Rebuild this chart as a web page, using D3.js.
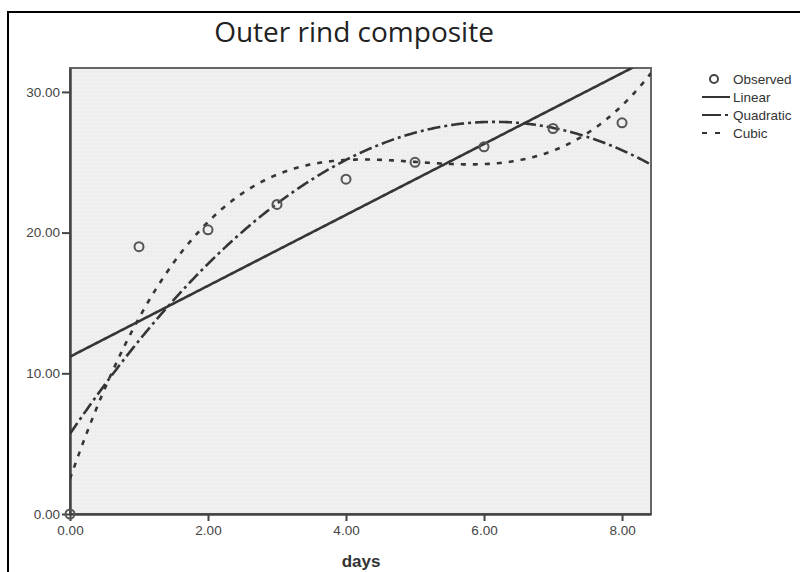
<!DOCTYPE html>
<html>
<head>
<meta charset="utf-8">
<script src="https://cdn.jsdelivr.net/npm/d3@7"></script>
<style>
  body { margin: 0; background: #fff; }
  svg { display: block; }
</style>
</head>
<body>
<div id="chart"></div>
<script>
// Outer rind composite - curve estimation chart (observed + linear/quadratic/cubic fits)

const days = [0, 1, 2, 3, 4, 5, 6, 7, 8];
const observed = [0, 19.0, 20.2, 22.0, 23.8, 25.0, 26.1, 27.4, 27.8];

// fitted model coefficients, constant term first
const linearCoef = [11.18, 2.52];
const quadraticCoef = [5.70, 7.214, -0.5868];
const cubicCoef = [2.496, 14.122, -2.877, 0.1908];

const xTicks = [0, 2, 4, 6, 8];
const yTicks = [0, 10, 20, 30];
const legendLabels = ['Observed', 'Linear', 'Quadratic', 'Cubic'];

const W = 800, H = 572;
const plot = { left: 70, right: 651, top: 68, bottom: 514 };

const svg = d3.select('#chart').append('svg')
  .attr('width', W)
  .attr('height', H);

// frame lines (top + left)
svg.append('path')
  .attr('d', `M8,${H} L8,12 L${W},12`)
  .attr('fill', 'none')
  .attr('stroke', '#000')
  .attr('stroke-width', 2);

// title
svg.append('text')
  .attr('x', 354)
  .attr('y', 42)
  .attr('text-anchor', 'middle')
  .attr('font-family', '"Open Sans", sans-serif')
  .attr('font-size', 28)
  .attr('fill', '#222')
  .text('Outer rind composite');

const x = d3.scaleLinear().domain([0, 8.42]).range([plot.left, plot.right]);
const y = d3.scaleLinear().domain([0, 31.7]).range([plot.bottom, plot.top]);

// dotted grey background
const defs = svg.append('defs');
const pat = defs.append('pattern')
  .attr('id', 'dots')
  .attr('width', 4)
  .attr('height', 4)
  .attr('patternUnits', 'userSpaceOnUse');
pat.append('rect').attr('width', 4).attr('height', 4).attr('fill', '#eeeeee');
pat.append('rect').attr('x', 1).attr('y', 1).attr('width', 1).attr('height', 1).attr('fill', '#fbfbfb');

defs.append('clipPath').attr('id', 'clip')
  .append('rect')
  .attr('x', plot.left)
  .attr('y', plot.top)
  .attr('width', plot.right - plot.left)
  .attr('height', plot.bottom - plot.top);

svg.append('rect')
  .attr('x', plot.left)
  .attr('y', plot.top)
  .attr('width', plot.right - plot.left)
  .attr('height', plot.bottom - plot.top)
  .attr('fill', 'url(#dots)')
  .attr('stroke', '#666')
  .attr('stroke-width', 2);

// axes
const xAxis = svg.append('g')
  .attr('transform', `translate(0,${plot.bottom})`)
  .call(d3.axisBottom(x).tickValues(xTicks).tickFormat(d3.format('.2f'))
    .tickSizeInner(7).tickSizeOuter(0).tickPadding(4));
const yAxis = svg.append('g')
  .attr('transform', `translate(${plot.left},0)`)
  .call(d3.axisLeft(y).tickValues(yTicks).tickFormat(d3.format('.2f'))
    .tickSizeInner(8).tickSizeOuter(0).tickPadding(2));

[xAxis, yAxis].forEach(g => {
  g.select('.domain').attr('stroke', '#444').attr('stroke-width', 2.5);
  g.selectAll('.tick line').attr('stroke', '#444').attr('stroke-width', 2);
  g.selectAll('.tick text')
    .attr('font-family', 'Arial, "Liberation Sans", sans-serif')
    .attr('font-size', 13.5)
    .attr('fill', '#444');
});

svg.append('text')
  .attr('x', 361)
  .attr('y', 567)
  .attr('text-anchor', 'middle')
  .attr('font-family', 'Arial, "Liberation Sans", sans-serif')
  .attr('font-weight', 'bold')
  .attr('font-size', 17)
  .attr('fill', '#333')
  .text('days');

// fitted curves
const poly = coef => v => coef.reduce((s, c, i) => s + c * Math.pow(v, i), 0);
const xs = d3.range(0, 8.43, 0.02);

const curves = [
  { coef: linearCoef, dash: null },
  { coef: quadraticCoef, dash: '13,4,3,4' },
  { coef: cubicCoef, dash: '5,7' }
];

const g = svg.append('g').attr('clip-path', 'url(#clip)');
curves.forEach(c => {
  const f = poly(c.coef);
  g.append('path')
    .datum(xs)
    .attr('fill', 'none')
    .attr('stroke', '#353535')
    .attr('stroke-width', 2.6)
    .attr('stroke-dasharray', c.dash)
    .attr('d', d3.line().x(d => x(d)).y(d => y(f(d))));
});

// observed points
svg.append('g').selectAll('circle')
  .data(days.map((d, i) => ({ d, v: observed[i] })))
  .join('circle')
  .attr('cx', p => x(p.d))
  .attr('cy', p => y(p.v))
  .attr('r', 4.5)
  .attr('fill', 'none')
  .attr('stroke', '#555')
  .attr('stroke-width', 2);

// legend
const leg = svg.append('g').attr('font-family', 'Arial, "Liberation Sans", sans-serif');
const rowY = i => 79 + i * 18;
leg.selectAll('text')
  .data(legendLabels)
  .join('text')
  .attr('x', 733)
  .attr('y', (d, i) => rowY(i) + 5)
  .attr('font-size', 13.5)
  .attr('fill', '#333')
  .text(d => d);

leg.append('circle')
  .attr('cx', 714).attr('cy', rowY(0)).attr('r', 4)
  .attr('fill', 'none').attr('stroke', '#444').attr('stroke-width', 2);
[[null, 1, 730], ['19,4,3,4', 2, 730], ['5,8', 3, 720]].forEach(([dash, i, x2]) => {
  leg.append('line')
    .attr('x1', 702).attr('x2', x2)
    .attr('y1', rowY(i)).attr('y2', rowY(i))
    .attr('stroke', '#333')
    .attr('stroke-width', 2)
    .attr('stroke-dasharray', dash);
});
</script>
</body>
</html>
